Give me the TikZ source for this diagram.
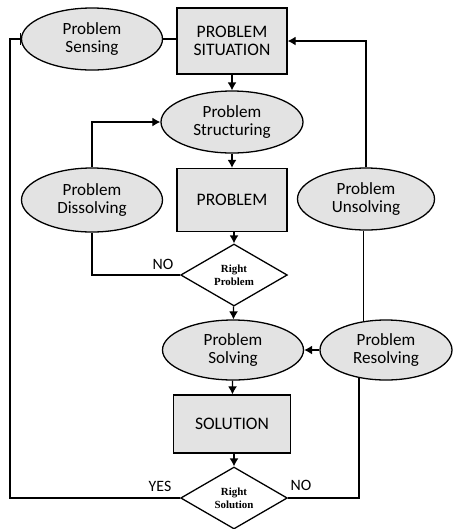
\documentclass[tikz,border=0pt]{standalone}
\usepackage{fontspec}
\setmainfont{Carlito}
\newfontfamily\decfont{Liberation Serif}
\usetikzlibrary{shapes.geometric,arrows.meta}

\begin{document}
\begin{tikzpicture}[x=0.3mm,y=-0.3mm,
		oval/.style={ellipse,draw,fill=black!11,line width=1.1pt,align=center,
			font=\fontsize{14.6}{15.3}\selectfont},
		stage/.style={rectangle,draw,fill=black!11,line width=1.1pt,align=center,
			font=\fontsize{15}{15.3}\selectfont},
		check/.style={diamond,draw,fill=white,line width=1.1pt,aspect=2,inner sep=0pt,align=center,
			font=\decfont\bfseries\fontsize{9.3}{11}\selectfont,minimum width=32mm,minimum height=18.6mm},
		tag/.style={font=\fontsize{13.5}{15}\selectfont,inner sep=0pt},
		flow/.style={line width=1.1pt,-{Latex[length=2.4mm,width=2.7mm]}},
		link/.style={line width=1.1pt}]
	\useasboundingbox (0,0) rectangle (453,529);
	% nodes
	\node[oval,minimum width=42.3mm,minimum height=18.6mm] (sense) at (92,39) {Problem\\Sensing};
	\node[stage,minimum width=33mm,minimum height=19.8mm] (sit) at (232,41) {PROBLEM\\SITUATION};
	\node[oval,minimum width=42.6mm,minimum height=18.6mm] (struct) at (232,122) {Problem\\Structuring};
	\node[oval,minimum width=42.3mm,minimum height=19.2mm] (diss) at (92,200) {Problem\\Dissolving};
	\node[stage,minimum width=33mm,minimum height=18.9mm] (prob) at (232,200) {PROBLEM};
	\node[oval,minimum width=41.1mm,minimum height=18.6mm] (unsolv) at (366,199) {Problem\\Unsolving};
	\node[check] (rprob) at (234,275) {Right\\Problem};
	\node[oval,minimum width=42.3mm,minimum height=18mm] (solv) at (233,350) {Problem\\Solving};
	\node[oval,minimum width=39.6mm,minimum height=18mm] (resolv) at (386,350) {Problem\\Resolving};
	\node[stage,minimum width=35.1mm,minimum height=17.4mm] (sol) at (232,424) {SOLUTION};
	\node[check] (rsol) at (234,498) {Right\\Solution};
	\coordinate (lft) at (10,39);
	% labels
	\node[tag] (noprob) at (163,264) {NO};
	\node[tag] (yessol) at (160,486) {YES};
	\node[tag] (nosol) at (301,485) {NO};
	% main column
	\draw[flow] (sit) -- (struct);
	\draw[flow] (struct) -- (prob);
	\draw[flow] (prob.south -| rprob.north) -- (rprob.north);
	\draw[flow] (rprob) -- (solv);
	\draw[flow] (solv) -- (sol);
	\draw[flow] (sol.south -| rsol.north) -- (rsol.north);
	\draw[flow] (resolv) -- (solv);
	\draw[link] (sense.east) -- (sense.east -| sit.west);
	% loops
	\draw[link] (rprob.west) -| (diss.south);
	\draw[flow] (diss.north) |- (struct.west);
	\draw[flow] (unsolv.north) |- (sit.east);
	\draw[link] (resolv.128) -- (resolv.128 |- unsolv.south);
	\draw[link] (resolv.226) |- (rsol.east);
	\draw[line width=1.1pt,-{Bar[width=3.6mm]}] (rsol.west) -| (lft) -- (sense.west);
\end{tikzpicture}
\end{document}
